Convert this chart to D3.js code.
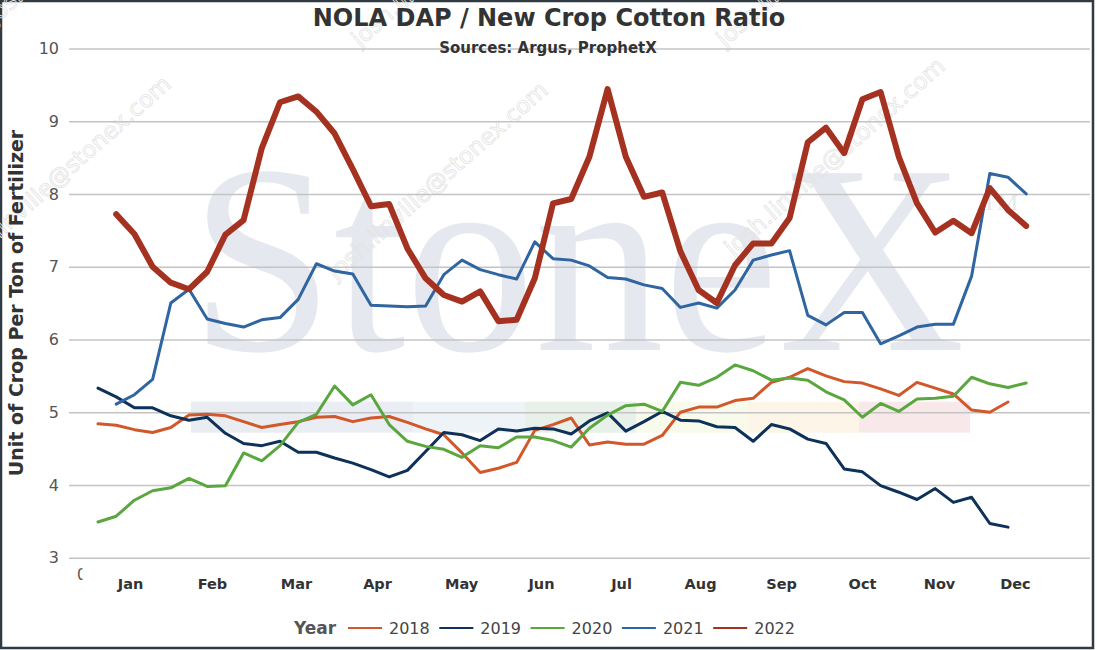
<!DOCTYPE html>
<html>
<head>
<meta charset="utf-8">
<script src="https://cdn.jsdelivr.net/npm/d3@7"></script>
<style>
  body { margin: 0; background: #fff; }
  svg { display: block; font-family: "DejaVu Sans", Verdana, sans-serif; }
</style>
</head>
<body>
<div id="chart-area"></div>
<script>
// weekly ratio values, index 0 = week 1 (null = no data)
var s2018 = [4.84, 4.82, 4.76, 4.72, 4.79, 4.96, 4.97, 4.95, 4.87, 4.79, 4.83, 4.87, 4.93, 4.94, 4.87, 4.92, 4.94, 4.86, 4.77, 4.69,
    4.44, 4.17, 4.23, 4.31, 4.75, 4.83, 4.92, 4.55, 4.59, 4.56, 4.56, 4.68, 5.00, 5.07, 5.07, 5.16, 5.19, 5.41, 5.48, 5.60,
    5.50, 5.42, 5.40, 5.32, 5.23, 5.41, 5.33, 5.25, 5.03, 5.00, 5.14, null];
var s2019 = [5.33, 5.21, 5.06, 5.06, 4.95, 4.89, 4.93, 4.71, 4.57, 4.54, 4.60, 4.45, 4.45, 4.37, 4.30, 4.21, 4.11, 4.20, 4.46, 4.72,
    4.69, 4.61, 4.77, 4.74, 4.78, 4.77, 4.70, 4.88, 4.99, 4.74, 4.87, 5.01, 4.89, 4.88, 4.80, 4.79, 4.60, 4.83, 4.77, 4.63,
    4.57, 4.22, 4.18, 3.99, 3.90, 3.80, 3.95, 3.76, 3.83, 3.47, 3.42, null];
var s2020 = [3.49, 3.57, 3.79, 3.92, 3.96, 4.09, 3.98, 3.99, 4.44, 4.33, 4.54, 4.86, 4.97, 5.36, 5.10, 5.24, 4.83, 4.60, 4.53, 4.49,
    4.38, 4.54, 4.51, 4.66, 4.66, 4.61, 4.52, 4.78, 4.96, 5.09, 5.11, 5.01, 5.41, 5.37, 5.48, 5.65, 5.57, 5.44, 5.47, 5.44,
    5.28, 5.17, 4.93, 5.12, 5.01, 5.18, 5.19, 5.22, 5.48, 5.39, 5.34, 5.40];
var s2021 = [null, 5.11, 5.24, 5.45, 6.50, 6.69, 6.28, 6.22, 6.17, 6.27, 6.30, 6.55, 7.04, 6.94, 6.90, 6.47, 6.46, 6.45, 6.46, 6.89,
    7.09, 6.96, 6.89, 6.83, 7.34, 7.11, 7.09, 7.01, 6.85, 6.83, 6.75, 6.70, 6.44, 6.50, 6.43, 6.68, 7.09, 7.16, 7.22, 6.33,
    6.20, 6.37, 6.37, 5.94, 6.05, 6.17, 6.21, 6.21, 6.87, 8.28, 8.23, 8.00];
var s2022 = [null, 7.72, 7.45, 7.00, 6.78, 6.69, 6.93, 7.44, 7.64, 8.63, 9.26, 9.34, 9.13, 8.83, 8.34, 7.83, 7.86, 7.25, 6.84, 6.61,
    6.52, 6.66, 6.25, 6.27, 6.84, 7.87, 7.93, 8.51, 9.44, 8.51, 7.96, 8.02, 7.21, 6.68, 6.50, 7.02, 7.32, 7.32, 7.67, 8.71,
    8.91, 8.56, 9.30, 9.40, 8.51, 7.87, 7.47, 7.63, 7.46, 8.08, 7.78, 7.56];

var years = ["2018", "2019", "2020", "2021", "2022"];
var yearColors = ["#d2572a", "#0d3158", "#5aa63f", "#2f65a0", "#a53221"];
var yearWidths = [3, 3, 3, 3, 6];
var seriesList = [s2018, s2019, s2020, s2021, s2022];

var months = ["Jan", "Feb", "Mar", "Apr", "May", "Jun", "Jul", "Aug", "Sep", "Oct", "Nov", "Dec"];
var monthWeeks = [2.76, 7.26, 11.88, 16.33, 20.95, 25.34, 29.74, 34.08, 38.53, 42.98, 47.21, 51.38];
var yTicks = [3, 4, 5, 6, 7, 8, 9, 10];

var width = 1097,
    height = 650;

var svg = d3.select("#chart-area").append("svg")
    .attr("width", width)
    .attr("height", height);

// frame
svg.append("rect")
    .attr("x", 1).attr("y", 1)
    .attr("width", 1092).attr("height", 647)
    .attr("fill", "#fff")
    .attr("stroke", "#2f3a42")
    .attr("stroke-width", 2.5);

var x = d3.scaleLinear().domain([0, 52]).range([79.8, 1026.2]);
var y = d3.scaleLinear().domain([3, 10]).range([557.7, 48.4]);

// watermark (logo + mail)
var wm = svg.append("g").attr("class", "watermark");
var bandColors = ["#e9ecf1", "#eaeef4", "#eef3f8", "#e7f0e9", "#f8faec", "#fdf5e8", "#f9e8ea"];
wm.selectAll("rect.band").data(bandColors).enter().append("rect")
    .attr("class", "band")
    .attr("x", function(d, i) { return 191 + i * 111.3; })
    .attr("y", 401.7)
    .attr("width", 111.3)
    .attr("height", 31)
    .attr("fill", function(d) { return d; });

wm.append("text")
    .attr("x", 190).attr("y", 350)
    .attr("textLength", 775)
    .attr("lengthAdjust", "spacingAndGlyphs")
    .style("font-family", "'Liberation Serif', 'DejaVu Serif', serif")
    .style("font-size", "270px")
    .style("fill", "#e5e8ee")
    .text("StoneX");
wm.append("text")
    .attr("x", 982).attr("y", 210)
    .style("font-family", "'Liberation Serif', serif")
    .style("font-size", "24px")
    .style("fill", "#e5e8ee")
    .text("TM");

var mailSpots = [[-41, 275], [336, 281], [733, 257], [-5, 25], [360, 48], [725, 48]];
wm.selectAll("text.mail").data(mailSpots).enter().append("text")
    .attr("class", "mail")
    .attr("transform", function(d) { return "translate(" + d[0] + "," + d[1] + ")rotate(-41.5)"; })
    .style("font-family", "'DejaVu Sans', sans-serif")
    .style("font-size", "23px")
    .style("fill", "none")
    .style("stroke", "#e4e4e4")
    .style("stroke-width", 0.8)
    .text("josh.linville@stonex.com");

// y axis with gridlines
var yAxis = svg.append("g")
    .attr("transform", "translate(69,0)")
    .call(d3.axisLeft(y).tickValues(yTicks).tickSize(-1021).tickPadding(10).tickFormat(d3.format("d")));
yAxis.select(".domain").remove();
yAxis.selectAll(".tick line").attr("stroke", "#c4c4c4").attr("stroke-width", 1.5);
yAxis.selectAll(".tick text")
    .style("font-family", "'DejaVu Sans', sans-serif")
    .style("font-size", "16px")
    .style("fill", "#555");

// x axis, month labels only
var xAxis = svg.append("g")
    .attr("transform", "translate(0,573)")
    .call(d3.axisBottom(x).tickValues(monthWeeks).tickSize(0).tickPadding(6)
        .tickFormat(function(d, i) { return months[i]; }));
xAxis.select(".domain").remove();
xAxis.selectAll(".tick text")
    .style("font-family", "'DejaVu Sans', sans-serif")
    .style("font-size", "14.5px")
    .style("font-weight", "bold")
    .style("fill", "#333");

// half-hidden "0" label at the axis corner
svg.append("clipPath").attr("id", "zeroClip")
    .append("rect").attr("x", 70).attr("y", 560).attr("width", 12.5).attr("height", 25);
svg.append("text")
    .attr("x", 77).attr("y", 580)
    .attr("clip-path", "url(#zeroClip)")
    .style("font-size", "15px")
    .style("fill", "#555")
    .text("0");

// lines
var line = d3.line()
    .defined(function(d) { return d != null; })
    .x(function(d, i) { return x(i + 1); })
    .y(function(d) { return y(d); });

svg.selectAll("path.year").data(seriesList).enter().append("path")
    .attr("class", "year")
    .attr("d", line)
    .attr("fill", "none")
    .attr("stroke", function(d, i) { return yearColors[i]; })
    .attr("stroke-width", function(d, i) { return yearWidths[i]; })
    .attr("stroke-linejoin", "round")
    .attr("stroke-linecap", "round");

// titles
svg.append("text")
    .attr("x", 549).attr("y", 26)
    .attr("text-anchor", "middle")
    .style("font-size", "24px")
    .style("font-weight", "bold")
    .style("fill", "#333")
    .text("NOLA DAP / New Crop Cotton Ratio");

svg.append("text")
    .attr("x", 548).attr("y", 53)
    .attr("text-anchor", "middle")
    .style("font-size", "15px")
    .style("font-weight", "bold")
    .style("fill", "#333")
    .text("Sources: Argus, ProphetX");

svg.append("text")
    .attr("transform", "translate(23,303)rotate(-90)")
    .attr("text-anchor", "middle")
    .style("font-size", "19px")
    .style("font-weight", "bold")
    .style("fill", "#333")
    .text("Unit of Crop Per Ton of Fertilizer");

// legend
var legend = svg.append("g").attr("transform", "translate(294,628)");
legend.append("text")
    .attr("x", 0).attr("y", 6)
    .style("font-size", "17px")
    .style("font-weight", "bold")
    .style("fill", "#555")
    .text("Year");

var item = legend.selectAll("g.item").data(years).enter().append("g")
    .attr("class", "item")
    .attr("transform", function(d, i) { return "translate(" + (54 + i * 91.3) + ",0)"; });
item.append("line")
    .attr("x1", 0).attr("x2", 34)
    .attr("stroke", function(d, i) { return yearColors[i]; })
    .attr("stroke-width", 2);
item.append("text")
    .attr("x", 41).attr("y", 6)
    .style("font-size", "16px")
    .style("fill", "#444")
    .text(function(d) { return d; });
</script>
</body>
</html>
